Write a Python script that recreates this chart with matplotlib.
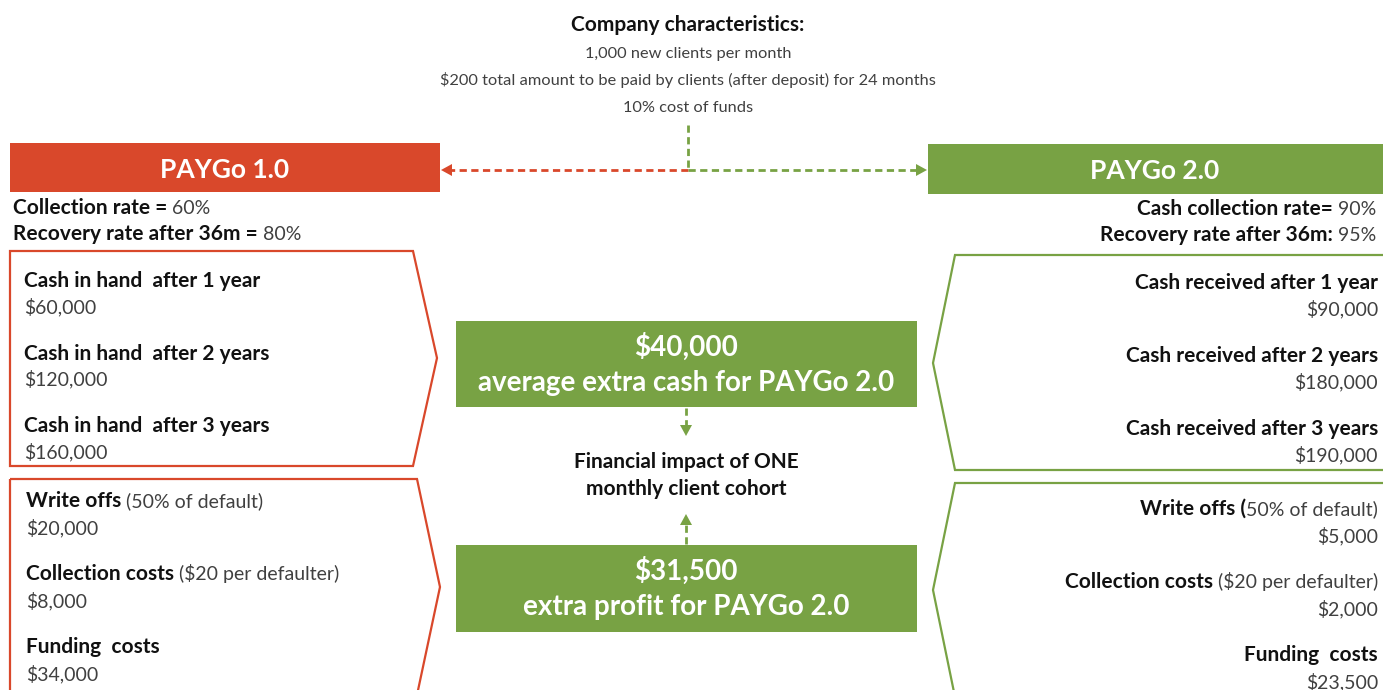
import matplotlib.pyplot as plt
from matplotlib.patches import Polygon, Rectangle

# ---- content ----
company_title = "Company characteristics:"
company_lines = ["1,000 new clients per month",
                 "$200 total amount to be paid by clients (after deposit) for 24 months",
                 "10% cost of funds"]

paygo1_name = "PAYGo 1.0"
paygo2_name = "PAYGo 2.0"
paygo1_rates = [("Collection rate =", " 60%"), ("Recovery rate after 36m =", " 80%")]
paygo2_rates = [("Cash collection rate=", " 90%"), ("Recovery rate after 36m:", " 95%")]

cash_periods = ["1 year", "2 years", "3 years"]
paygo1_cash = ["$60,000", "$120,000", "$160,000"]
paygo2_cash = ["$90,000", "$180,000", "$190,000"]

paygo1_cost_labels = [("Write offs", " (50% of default)"),
                      ("Collection costs", " ($20 per defaulter)"),
                      ("Funding  costs", "")]
paygo2_cost_labels = [("Write offs (", "50% of default)"),
                      ("Collection costs", " ($20 per defaulter)"),
                      ("Funding  costs", "")]
paygo1_costs = ["$20,000", "$8,000", "$34,000"]
paygo2_costs = ["$5,000", "$2,000", "$23,500"]

extra_cash = ["$40,000", "average extra cash for PAYGo 2.0"]
extra_profit = ["$31,500", "extra profit for PAYGo 2.0"]
impact_lines = ["Financial impact of ONE", "monthly client cohort"]

RED = "#D9482B"
GREEN = "#78A244"
BLACK = "#111111"
GRAY = "#404040"
FONT = ["Lato", "DejaVu Sans"]
SIZE = {"bold": 15, "normal": 14}
TOP_TITLE = 15
TOP = 11.8
HEAD = 19
BIG = 20

W, H = 1383, 690
fig = plt.figure(figsize=(W / 100, H / 100), dpi=100)
ax = fig.add_axes([0, 0, 1, 1])
ax.set_xlim(0, W)
ax.set_ylim(H, 0)
ax.axis("off")
renderer = fig.canvas.get_renderer()


def measure(s, size, weight):
    t = ax.text(0, 0, "|" + s + "|", fontsize=size, fontweight=weight, family=FONT)
    w = t.get_window_extent(renderer).width
    t.remove()
    t = ax.text(0, 0, "||", fontsize=size, fontweight=weight, family=FONT)
    w -= t.get_window_extent(renderer).width
    t.remove()
    return w


def runs(x, y, parts, ha="left"):
    widths = [measure(s, SIZE[wt], wt) for s, wt in parts]
    total = sum(widths)
    if ha == "right":
        x -= total
    elif ha == "center":
        x -= total / 2
    for (s, wt), w in zip(parts, widths):
        ax.text(x, y, s, fontsize=SIZE[wt], fontweight=wt, family=FONT, va="baseline",
                color=BLACK if wt == "bold" else GRAY)
        x += w


def label(x, y, s, size=None, weight="normal", color=None, ha="left"):
    if size is None:
        size = SIZE[weight]
    if color is None:
        color = BLACK if weight == "bold" else GRAY
    ax.text(x, y, s, fontsize=size, fontweight=weight, family=FONT, color=color,
            ha=ha, va="baseline")


def dashed(xs, ys, color):
    ax.plot(xs, ys, color=color, lw=2.0, ls=(0, (2.6, 1.6)), solid_capstyle="butt")


def head(x, y, direction, color):
    d = 11
    w = 6
    if direction == "left":
        pts = [(x, y), (x + d, y - w), (x + d, y + w)]
    elif direction == "right":
        pts = [(x, y), (x - d, y - w), (x - d, y + w)]
    elif direction == "down":
        pts = [(x, y), (x - w, y - d), (x + w, y - d)]
    else:
        pts = [(x, y), (x - w, y + d), (x + w, y + d)]
    ax.add_patch(Polygon(pts, closed=True, color=color, lw=0))


# ---- top block ----
cx = 688
label(cx, 31, company_title, size=TOP_TITLE, weight="bold", ha="center")
for i, line in enumerate(company_lines):
    label(cx, 58 + 27 * i, line, size=TOP, ha="center")

# connector arrows
dashed([cx, cx], [125, 170], GREEN)
dashed([cx, 450], [170, 170], RED)
head(441, 170, "left", RED)
dashed([cx, 918], [170, 170], GREEN)
head(927, 170, "right", GREEN)

# ---- header boxes ----
ax.add_patch(Rectangle((10, 143), 430, 49, color=RED, lw=0))
label(225, 178, paygo1_name, size=HEAD, weight="bold", color="white", ha="center")
ax.add_patch(Rectangle((928, 144), 460, 50, color=GREEN, lw=0))
label(1155, 179, paygo2_name, size=HEAD, weight="bold", color="white", ha="center")

for i, (b, n) in enumerate(paygo1_rates):
    runs(13, 214 + 26 * i, [(b, "bold"), (n, "normal")])
for i, (b, n) in enumerate(paygo2_rates):
    runs(1376, 215 + 26 * i, [(b, "bold"), (n, "normal")], ha="right")

# ---- chevron boxes ----
ax.add_patch(Polygon([(10, 251), (413, 251), (437, 358), (413, 466), (10, 466)],
                     closed=True, fill=False, ec=RED, lw=1.6))
ax.add_patch(Polygon([(10, 479), (417, 479), (440, 587), (417, 695), (10, 695)],
                     closed=True, fill=False, ec=RED, lw=1.6))
ax.add_patch(Polygon([(1390, 255), (955, 255), (933, 363), (955, 470), (1390, 470)],
                     closed=True, fill=False, ec=GREEN, lw=1.6))
ax.add_patch(Polygon([(1390, 483), (955, 483), (933, 590), (955, 697), (1390, 697)],
                     closed=True, fill=False, ec=GREEN, lw=1.6))

for i, (period, val) in enumerate(zip(cash_periods, paygo1_cash)):
    y = 287 + 72.5 * i
    label(24, y, "Cash in hand  after " + period, weight="bold")
    label(24, y + 26, val)

for i, (period, val) in enumerate(zip(cash_periods, paygo2_cash)):
    y = 289 + 73 * i
    label(1378, y, "Cash received after " + period, weight="bold", ha="right")
    label(1378, y + 26, val, ha="right")

for i, ((b, n), val) in enumerate(zip(paygo1_cost_labels, paygo1_costs)):
    y = 507 + 73 * i
    runs(26, y, [(b, "bold"), (n, "normal")])
    label(26, y + 27, val)

for i, ((b, n), val) in enumerate(zip(paygo2_cost_labels, paygo2_costs)):
    y = 515 + 73 * i
    runs(1378, y, [(b, "bold"), (n, "normal")], ha="right")
    label(1378, y + 27, val, ha="right")

# ---- centre ----
mx = 686
ax.add_patch(Rectangle((456, 321), 461, 86, color=GREEN, lw=0))
label(mx, 356, extra_cash[0], size=BIG, weight="bold", color="white", ha="center")
label(mx, 391, extra_cash[1], size=BIG, weight="bold", color="white", ha="center")

dashed([mx, mx], [408, 426], GREEN)
head(mx, 436, "down", GREEN)

label(mx, 468, impact_lines[0], weight="bold", ha="center")
label(mx, 495, impact_lines[1], weight="bold", ha="center")

dashed([mx, mx], [544, 524], GREEN)
head(mx, 514, "up", GREEN)

ax.add_patch(Rectangle((456, 545), 461, 87, color=GREEN, lw=0))
label(mx, 580, extra_profit[0], size=BIG, weight="bold", color="white", ha="center")
label(mx, 615, extra_profit[1], size=BIG, weight="bold", color="white", ha="center")

fig.savefig("out.png", dpi=100)
